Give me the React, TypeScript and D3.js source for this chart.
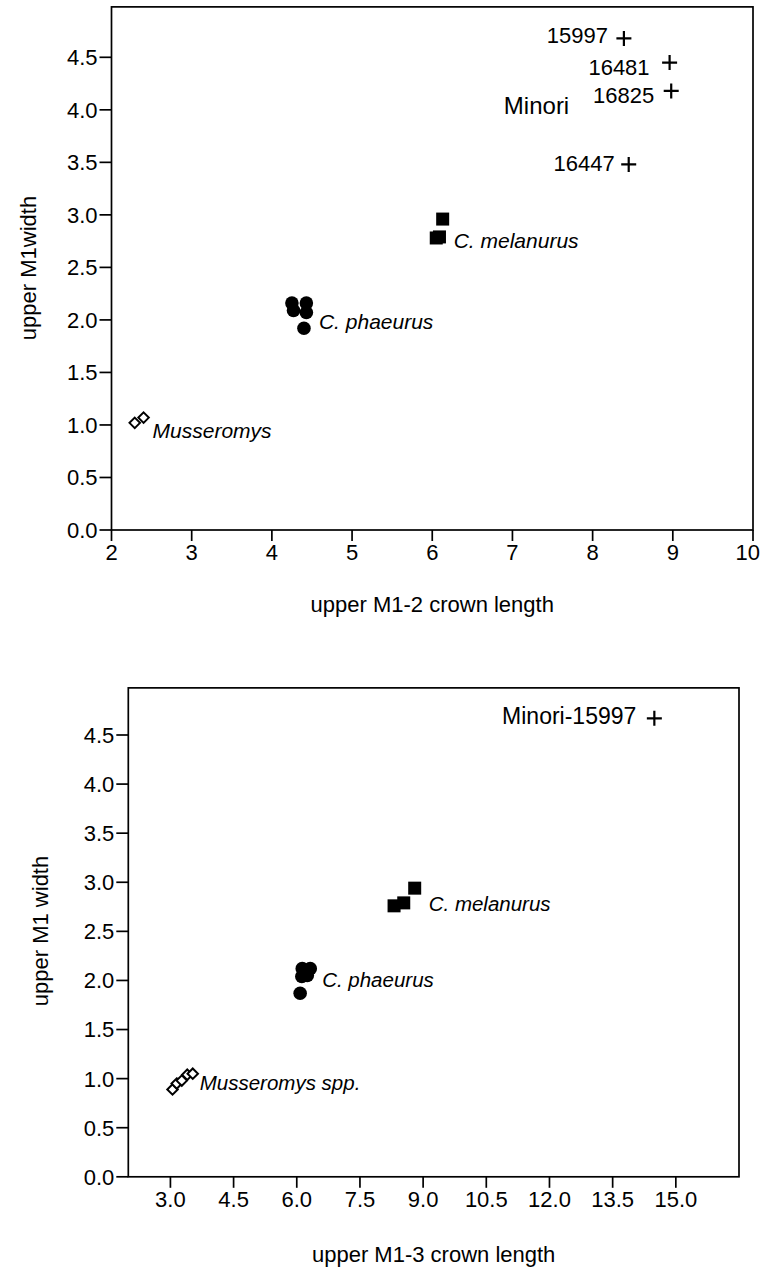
import React from "react";
import * as d3 from "d3";

// ---------- DATA ----------
// Chart 1: upper M1-2 crown length vs upper M1 width
const melanurus1: [number, number][] = [[6.13, 2.96], [6.05, 2.78], [6.09, 2.79]];
const phaeurus1: [number, number][] = [[4.25, 2.16], [4.43, 2.16], [4.27, 2.09], [4.43, 2.07], [4.40, 1.92]];
const musseromys1: [number, number][] = [[2.29, 1.02], [2.40, 1.07]];
const minoriIds = ["15997", "16481", "16825", "16447"];
const minori1: [number, number][] = [[8.39, 4.68], [8.96, 4.45], [8.98, 4.18], [8.45, 3.48]];
const xTicks1 = [2, 3, 4, 5, 6, 7, 8, 9, 10];
const yTicks = [0, 0.5, 1, 1.5, 2, 2.5, 3, 3.5, 4, 4.5];

// Chart 2: upper M1-3 crown length vs upper M1 width
const melanurus2: [number, number][] = [[8.31, 2.76], [8.54, 2.79], [8.80, 2.94]];
const phaeurus2: [number, number][] = [[6.13, 2.12], [6.32, 2.12], [6.12, 2.04], [6.25, 2.05], [6.08, 1.87]];
const musseromys2: [number, number][] = [[3.05, 0.89], [3.15, 0.95], [3.27, 0.98], [3.40, 1.04], [3.53, 1.05]];
const minori2: [number, number][] = [[14.49, 4.67]];
const xTicks2 = [3, 4.5, 6, 7.5, 9, 10.5, 12, 13.5, 15];

const FONT = "'Liberation Sans', Arial, Helvetica, sans-serif";
const W = 761;

type Scale = d3.ScaleLinear<number, number>;

function Frame({ x, y, xTicks, xFmt, yTop, xTitle, yTitle, yTitleX, yTitleY, xTitleY }: {
  x: Scale; y: Scale; xTicks: number[]; xFmt: (v: number) => string; yTop: number;
  xTitle: string; yTitle: string; yTitleX: number; yTitleY: number; xTitleY: number;
}) {
  const [x0, x1] = x.range();
  const y0 = y.range()[0];
  const fy = d3.format(".1f");
  return (
    <g>
      <rect x={x0} y={y(yTop)} width={x1 - x0} height={y0 - y(yTop)} fill="none" stroke="#000" strokeWidth={1.7} />
      {yTicks.map((t) => (
        <g key={"y" + t}>
          <line x1={x0 - 12} x2={x0} y1={y(t)} y2={y(t)} stroke="#000" strokeWidth={1.7} />
          <text x={x0 - 14} y={y(t)} dy="0.36em" textAnchor="end" fontSize={22} fontFamily={FONT}>{fy(t)}</text>
        </g>
      ))}
      {xTicks.map((t) => {
        const label = xFmt(t);
        const half = label.length * 6.2;
        const overflow = x(t) + half > W - 1;
        return (
          <g key={"x" + t}>
            <line x1={x(t)} x2={x(t)} y1={y0} y2={y0 + 11} stroke="#000" strokeWidth={1.7} />
            <text x={overflow ? W - 1 : x(t)} y={y0 + 30} textAnchor={overflow ? "end" : "middle"} fontSize={22} fontFamily={FONT}>{label}</text>
          </g>
        );
      })}
      <text x={(x0 + x1) / 2} y={xTitleY} textAnchor="middle" fontSize={22} fontFamily={FONT}>{xTitle}</text>
      <text transform={`translate(${yTitleX},${yTitleY}) rotate(-90)`} textAnchor="middle" fontSize={22} fontFamily={FONT}>{yTitle}</text>
    </g>
  );
}

function Squares({ pts, x, y }: { pts: [number, number][]; x: Scale; y: Scale }) {
  const s = 13;
  return <g>{pts.map((p, i) => <rect key={i} x={x(p[0]) - s / 2} y={y(p[1]) - s / 2} width={s} height={s} fill="#000" />)}</g>;
}
function Circles({ pts, x, y }: { pts: [number, number][]; x: Scale; y: Scale }) {
  return <g>{pts.map((p, i) => <circle key={i} cx={x(p[0])} cy={y(p[1])} r={6.8} fill="#000" />)}</g>;
}
function Diamonds({ pts, x, y }: { pts: [number, number][]; x: Scale; y: Scale }) {
  const sym = d3.symbol().type(d3.symbolDiamond2).size(70)();
  return <g>{pts.map((p, i) => <path key={i} d={sym || ""} transform={`translate(${x(p[0])},${y(p[1])})`} fill="#fff" stroke="#000" strokeWidth={2} />)}</g>;
}
function Pluses({ pts, x, y }: { pts: [number, number][]; x: Scale; y: Scale }) {
  const a = 7.5;
  return <g>{pts.map((p, i) => {
    const cx = x(p[0]), cy = y(p[1]);
    return <path key={i} d={`M${cx - a},${cy}H${cx + a}M${cx},${cy - a}V${cy + a}`} stroke="#000" strokeWidth={2.2} fill="none" />;
  })}</g>;
}

export default function App() {
  // Chart 1 scales
  const x1 = d3.scaleLinear().domain([2, 10]).range([111.5, 753]);
  const y1 = d3.scaleLinear().domain([0, 4.5]).range([530, 57.3]);
  // Chart 2 scales
  const x2 = d3.scaleLinear().domain([2, 16.5]).range([128.3, 739]);
  const y2 = d3.scaleLinear().domain([0, 4.5]).range([1176.8, 735]);

  const it = { fontSize: 21, fontStyle: "italic" as const, fontFamily: FONT };
  const it2 = { fontSize: 20.5, fontStyle: "italic" as const, fontFamily: FONT };
  const pl = { fontSize: 22, fontFamily: FONT };
  const minoriOffsets: [number, number][] = [[-16, 5], [-20, 12], [-17, 12], [-14, 7]];

  return (
    <svg width={W} height={1279} style={{ position: "absolute", left: 0, top: 0, background: "#fff" }}>
      <rect width={W} height={1279} fill="#fff" />
      {/* Chart 1 */}
      <Frame x={x1} y={y1} xTicks={xTicks1} xFmt={(v) => String(v)} yTop={4.98}
        xTitle="upper M1-2 crown length" yTitle="upper M1width" yTitleX={36} yTitleY={268} xTitleY={612} />
      <Squares pts={melanurus1} x={x1} y={y1} />
      <Circles pts={phaeurus1} x={x1} y={y1} />
      <Diamonds pts={musseromys1} x={x1} y={y1} />
      <Pluses pts={minori1} x={x1} y={y1} />
      <text x={x1(melanurus1[0][0]) + 11} y={y1(melanurus1[1][1]) + 10} {...it}>C. melanurus</text>
      <text x={x1(phaeurus1[4][0]) + 15} y={y1(phaeurus1[4][1]) + 1} {...it}>C. phaeurus</text>
      <text x={x1(musseromys1[1][0]) + 9} y={y1(musseromys1[0][1]) + 15} {...it}>Musseromys</text>
      {minori1.map((p, i) => (
        <text key={i} x={x1(p[0]) + minoriOffsets[i][0]} y={y1(p[1]) + minoriOffsets[i][1]} textAnchor="end" {...pl}>{minoriIds[i]}</text>
      ))}
      <text x={x1(minori1[2][0]) - 102} y={y1(minori1[2][1]) + 23} textAnchor="end" fontSize={24} fontFamily={FONT}>Minori</text>

      {/* Chart 2 */}
      <Frame x={x2} y={y2} xTicks={xTicks2} xFmt={d3.format(".1f")} yTop={4.98}
        xTitle="upper M1-3 crown length" yTitle="upper M1 width" yTitleX={48} yTitleY={931} xTitleY={1262} />
      <Squares pts={melanurus2} x={x2} y={y2} />
      <Circles pts={phaeurus2} x={x2} y={y2} />
      <Diamonds pts={musseromys2} x={x2} y={y2} />
      <Pluses pts={minori2} x={x2} y={y2} />
      <text x={x2(melanurus2[2][0]) + 14} y={y2(melanurus2[2][1]) + 23} {...it2}>C. melanurus</text>
      <text x={x2(phaeurus2[4][0]) + 22} y={y2(phaeurus2[4][1]) - 6} {...it2}>C. phaeurus</text>
      <text x={x2(musseromys2[4][0]) + 7} y={y2(musseromys2[4][1]) + 16} {...it2}>Musseromys spp.</text>
      <text x={x2(minori2[0][0]) - 18} y={y2(minori2[0][1]) + 6} textAnchor="end" fontSize={23} fontFamily={FONT}>Minori-15997</text>
    </svg>
  );
}
